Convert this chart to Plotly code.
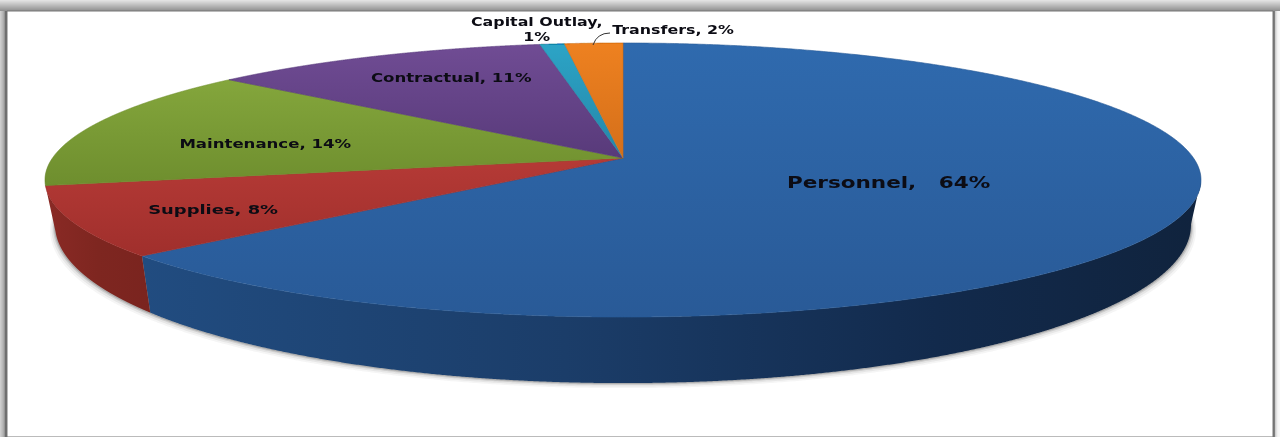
import numpy as np
import plotly.graph_objects as go

# ---- data ----
categories = ["Personnel", "Supplies", "Maintenance", "Contractual", "Capital Outlay", "Transfers"]
shares = [63.6, 8.2, 14.4, 11.1, 0.8, 1.9]
separators = [",\u00a0\u00a0 ", ", ", ", ", ", ", ",<br>", ", "]

# ---- styles ----
top_colors = [
    ["#2f6aae", "#295a97"],
    ["#b53a36", "#a02f2c"],
    ["#84a63c", "#6e8e2e"],
    ["#704c94", "#583a7a"],
    ["#2ca4c6", "#2586a8"],
    ["#ee8120", "#d46f1a"],
]
wall_blue = [[0, "#214c80"], [0.4, "#1b3d69"], [0.75, "#122a4c"], [1, "#10233d"]]
wall_red = [[0, "#8a2a25"], [0.5, "#7e2620"], [1, "#7a241f"]]

label_pos = [(889, 183), (213, 209), (265, 144), (451, 78), (536, 29), (673, 30)]
label_size = [15.6, 13, 12, 12, 11.5, 11.5]

# ---- perspective pie scale: share angle -> pixel ----
CX, TILT = 623, 0.1607


def project(theta_deg, cy, rx, ry):
    t = np.radians(theta_deg)
    w = 1 + TILT * np.cos(t)
    return CX + rx * np.sin(t) / w, cy - ry * np.cos(t) / w


def top(theta):
    return project(theta, 158, 570.5, 133.5)


def base(theta):
    return project(theta, 199.6, 560.6, 154)


edges = np.concatenate([[0], np.cumsum(shares)]) * 3.6

fig = go.Figure()

# soft shadow beneath the disc
theta_all = np.linspace(90, 270, 800)
for grow, alpha in [(5, 0.05), (3.5, 0.08), (2, 0.14), (1, 0.22)]:
    bx, by = base(theta_all)
    cap_x, cap_y = top(theta_all[::-1])
    fig.add_trace(go.Scatter(
        x=np.concatenate([bx + np.sign(bx - CX) * grow, cap_x]),
        y=np.concatenate([by + grow, cap_y]),
        mode="lines", line=dict(width=0, simplify=False), fill="toself",
        fillcolor=f"rgba(60,60,60,{alpha})", hoverinfo="skip", showlegend=False))


def wall(t0, t1, scale):
    th = np.linspace(t0, t1, 800)
    tx, ty = top(th)
    bx, by = base(th[::-1])
    fig.add_trace(go.Scatter(
        x=np.concatenate([tx, bx]), y=np.concatenate([ty, by]),
        mode="lines", line=dict(width=0, simplify=False), fill="toself",
        fillgradient=dict(type="horizontal", colorscale=scale),
        hoverinfo="skip", showlegend=False))


# the two slices whose side is visible
wall(99, edges[1], wall_blue)
wall(edges[1], edges[2], wall_red)

# slice tops
for i, name in enumerate(categories):
    th = np.linspace(edges[i], edges[i + 1], 800)
    ax, ay = top(th)
    fig.add_trace(go.Scatter(
        x=np.concatenate([[CX], ax, [CX]]), y=np.concatenate([[158], ay, [158]]),
        mode="lines", line=dict(width=0.6, color=top_colors[i][1], simplify=False), fill="toself",
        fillgradient=dict(type="vertical", colorscale=[[0, top_colors[i][1]], [1, top_colors[i][0]]]),
        name=name, hoverinfo="name", showlegend=False))

# frame of the picture
shapes = []
for k in range(11):
    g = 226 - k * 8
    shapes.append(dict(type="rect", xref="x", yref="y", x0=0, x1=1280, y0=k, y1=k + 1,
                       fillcolor=f"rgb({g},{g},{g})", line_width=0, layer="below"))
for k, g in enumerate([205, 195, 185, 172, 150, 110, 105]):
    shapes.append(dict(type="rect", x0=k, x1=k + 1, y0=11, y1=437,
                       fillcolor=f"rgb({g},{g},{g})", line_width=0, layer="below"))
for k, g in enumerate([115, 125, 205, 225, 240, 246, 248]):
    shapes.append(dict(type="rect", x0=1273 + k, x1=1274 + k, y0=11, y1=437,
                       fillcolor=f"rgb({g},{g},{g})", line_width=0, layer="below"))
shapes.append(dict(type="rect", x0=7, x1=1273, y0=11, y1=437, fillcolor="white",
                   line=dict(color="#777777", width=1), layer="below"))
# leader line of Transfers
shapes.append(dict(type="path", path="M 593 45 Q 597 33 610 33",
                   line=dict(color="#333333", width=1), layer="above"))

annotations = [
    dict(x=label_pos[i][0], y=label_pos[i][1], xref="x", yref="y", showarrow=False,
         text=f"<b>{categories[i]}{separators[i]}{round(shares[i])}%</b>",
         font=dict(family="DejaVu Sans", size=label_size[i], color="#0c0c14"),
         align="center")
    for i in range(len(categories))
]

fig.update_layout(
    width=1280, height=437, margin=dict(l=0, r=0, t=0, b=0),
    paper_bgcolor="white", plot_bgcolor="white",
    xaxis=dict(range=[0, 1280], visible=False, fixedrange=True),
    yaxis=dict(range=[437, 0], visible=False, fixedrange=True),
    shapes=shapes, annotations=annotations, showlegend=False,
)

# page margin off; labels widened and edges softened as in the stretched original
post = """
document.body.style.margin = '0';
document.body.style.overflow = 'hidden';
document.querySelectorAll('.annotation-text').forEach(function (t) {
  var b = t.getBBox();
  var c = b.x + b.width / 2;
  t.setAttribute('transform', 'translate(' + c + ',0) scale(1.38,1) translate(' + (-c) + ',0)');
});
document.querySelectorAll('.svg-container').forEach(function (s) {
  s.style.filter = 'blur(0.45px)';
});
"""
fig.write_html("out.html", config={"displayModeBar": False}, post_script=post)
